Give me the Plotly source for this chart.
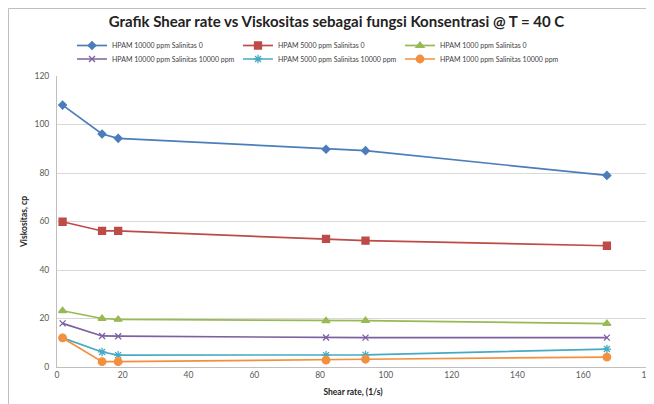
import plotly.graph_objects as go

shear_rate = [1.7, 13.7, 18.6, 81.8, 93.8, 167.2]

hpam10000_sal0 = [108.0, 96.1, 94.3, 89.8, 89.2, 79.0]
hpam5000_sal0 = [59.9, 56.1, 56.1, 52.8, 52.1, 50.0]
hpam1000_sal0 = [23.2, 20.0, 19.6, 19.0, 19.1, 17.9]
hpam10000_sal10000 = [18.0, 12.8, 12.7, 12.2, 12.1, 12.1]
hpam5000_sal10000 = [12.0, 6.2, 4.9, 4.9, 5.0, 7.4]
hpam1000_sal10000 = [12.0, 2.2, 2.2, 2.8, 3.2, 4.1]

series_names = [
    "HPAM 10000 ppm Salinitas 0",
    "HPAM 5000 ppm Salinitas 0",
    "HPAM 1000 ppm Salinitas 0",
    "HPAM 10000 ppm Salinitas 10000 ppm",
    "HPAM 5000 ppm Salinitas 10000 ppm",
    "HPAM 1000 ppm Salinitas 10000 ppm",
]
series_values = [hpam10000_sal0, hpam5000_sal0, hpam1000_sal0,
                 hpam10000_sal10000, hpam5000_sal10000, hpam1000_sal10000]

colors = ["#4A7EBB", "#BE4B48", "#98B954", "#7D60A0", "#46AAC5", "#F3903F"]
symbols = ["diamond", "square", "triangle-up", "x-thin-open", "asterisk-open", "circle"]
sizes = [6, 7, 7, 6, 7, 7.5]
legend_ids = ["legend", "legend2", "legend3", "legend4", "legend5", "legend6"]

fig = go.Figure()
for name, vals, c, s, sz, lg in zip(series_names, series_values, colors, symbols, sizes, legend_ids):
    fig.add_trace(go.Scatter(
        x=shear_rate, y=vals, name=name, mode="lines+markers",
        line=dict(color=c, width=1.7),
        marker=dict(symbol=s, size=sz, color=c, line=dict(color=c, width=1.3)),
        legend=lg,
    ))

# page body has an 8px margin, so the figure is 646x396 placed at (8, 8)
OFF = 8
W, H = 646, 396
L, R, T, B = 49, 5, 68, 37
pw = W - L - R
ph = H - T - B

def px_x(p):
    return (p - OFF - L) / pw

def px_y(p):
    return (H - B - (p - OFF)) / ph

legend_font = dict(family="Lato", size=7, color="#404040")
col_text_x = [112, 278, 440]
row_y = [45.5, 59]
positions = [(0, 0), (1, 0), (2, 0), (0, 1), (1, 1), (2, 1)]
leg_layout = {}
for lg, (ci, ri) in zip(legend_ids, positions):
    leg_layout[lg] = dict(
        x=px_x(col_text_x[ci] - 40), xanchor="left",
        y=px_y(row_y[ri]), yanchor="middle",
        font=legend_font, bgcolor="rgba(0,0,0,0)", borderwidth=0,
        itemwidth=30, tracegroupgap=0,
    )

fig.update_layout(
    width=W, height=H,
    margin=dict(l=L, r=R, t=T, b=B, autoexpand=False),
    paper_bgcolor="white", plot_bgcolor="white",
    showlegend=True,
    title=dict(
        text="<b>Grafik Shear rate vs Viskositas sebagai fungsi Konsentrasi @ T = 40 C</b>",
        x=(336.5 - OFF) / W, xanchor="center", y=1 - (22 - OFF) / H, yanchor="middle",
        font=dict(family="Lato", size=15, color="#222222"),
    ),
    xaxis=dict(
        range=[0, 180], dtick=20, showgrid=False, zeroline=False, automargin=False,
        showline=True, linecolor="#BFBFBF", linewidth=1, ticklabeloverflow="allow",
        ticks="", tickfont=dict(family="Lato", size=8.5, color="#595959"),
        title=dict(text="<b>Shear rate, (1/s)</b>", standoff=9,
                   font=dict(family="Lato", size=8.5, color="#222222")),
    ),
    yaxis=dict(
        range=[0, 120], dtick=20, showgrid=True, gridcolor="#D9D9D9", gridwidth=1,
        zeroline=False, showline=True, linecolor="#BFBFBF", linewidth=1, mirror=True,
        automargin=False,
        ticks="outside", ticklen=5, tickcolor="rgba(0,0,0,0)",
        tickfont=dict(family="Lato", size=8.5, color="#595959"),
        title=dict(text="<b>Viskositas, cp</b>", standoff=5,
                   font=dict(family="Lato", size=8.5, color="#222222")),
    ),
    shapes=[dict(
        type="rect", xref="paper", yref="paper",
        x0=px_x(8.5), x1=px_x(700), y0=px_y(460), y1=px_y(8.5),
        line=dict(color="#BFBFBF", width=1), fillcolor="rgba(0,0,0,0)", layer="below",
    )],
    **leg_layout,
)

fig.write_html("out.html")
